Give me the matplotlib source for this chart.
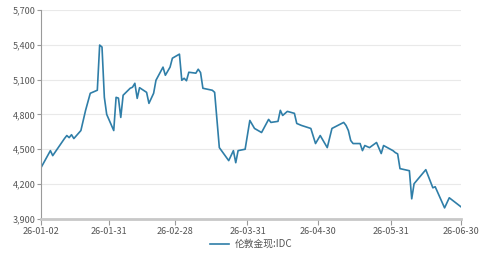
import matplotlib
matplotlib.use("Agg")
import matplotlib.pyplot as plt
import pandas as pd

plt.rcParams["font.family"] = ["Noto Sans CJK SC", "DejaVu Sans"]

# spot gold (London)
dates = [
    "2026-01-02", "2026-01-06", "2026-01-07", "2026-01-12", "2026-01-13",
    "2026-01-14", "2026-01-15", "2026-01-16", "2026-01-19", "2026-01-21",
    "2026-01-23", "2026-01-26", "2026-01-27", "2026-01-28", "2026-01-29",
    "2026-01-30", "2026-02-02", "2026-02-03", "2026-02-04", "2026-02-05",
    "2026-02-06", "2026-02-09", "2026-02-10", "2026-02-11", "2026-02-12",
    "2026-02-13", "2026-02-16", "2026-02-17", "2026-02-19", "2026-02-20",
    "2026-02-23", "2026-02-24", "2026-02-26", "2026-02-27", "2026-03-02",
    "2026-03-03", "2026-03-04", "2026-03-05", "2026-03-06", "2026-03-09",
    "2026-03-10", "2026-03-11", "2026-03-12", "2026-03-16", "2026-03-17",
    "2026-03-19", "2026-03-23", "2026-03-25", "2026-03-26", "2026-03-27",
    "2026-03-30", "2026-04-01", "2026-04-03", "2026-04-06", "2026-04-09",
    "2026-04-10", "2026-04-13", "2026-04-14", "2026-04-15", "2026-04-17",
    "2026-04-20", "2026-04-21", "2026-04-23", "2026-04-27", "2026-04-29",
    "2026-05-01", "2026-05-04", "2026-05-06", "2026-05-11", "2026-05-12",
    "2026-05-13", "2026-05-14", "2026-05-15", "2026-05-18", "2026-05-19",
    "2026-05-20", "2026-05-22", "2026-05-25", "2026-05-27", "2026-05-28",
    "2026-06-01", "2026-06-02", "2026-06-03", "2026-06-04", "2026-06-08",
    "2026-06-09", "2026-06-10", "2026-06-15", "2026-06-18", "2026-06-19",
    "2026-06-23", "2026-06-25", "2026-06-30",
]
price = [
    4341, 4488, 4445, 4592, 4618,
    4600, 4625, 4592, 4661, 4835,
    4982, 5008, 5397, 5380, 4947,
    4800, 4661, 4947, 4940, 4774,
    4965, 5025, 5034, 5068, 4938,
    5030, 4990, 4895, 4982, 5094,
    5207, 5137, 5207, 5284, 5319,
    5094, 5111, 5090, 5163, 5155,
    5189, 5160, 5025, 5008, 4990,
    4514, 4402, 4488, 4384, 4488,
    4500, 4748, 4679, 4644, 4757,
    4731, 4740, 4835, 4791, 4826,
    4809, 4722, 4705, 4679, 4549,
    4618, 4514, 4679, 4731, 4705,
    4661, 4575, 4549, 4549, 4488,
    4532, 4514, 4558, 4463, 4532,
    4488, 4471, 4460, 4333, 4315,
    4073, 4203, 4324, 4168, 4177,
    3995, 4082, 4004,
]
tick_dates = ["2026-01-02", "2026-01-31", "2026-02-28", "2026-03-31",
              "2026-04-30", "2026-05-31", "2026-06-30"]
y_ticks = [3900, 4200, 4500, 4800, 5100, 5400, 5700]
series_name = "伦敦金现:IDC"

x = pd.to_datetime(dates)
xt = pd.to_datetime(tick_dates)

fig = plt.figure(figsize=(5, 2.6), dpi=100)
ax = fig.add_axes([0.082, 0.158, 0.84, 0.804])

ax.plot(x, price, c="#2f7ea8", lw=1.2, label=series_name)

ax.set_ylim(3900, 5700)
ax.set_xlim(xt[0], xt[-1])
ax.set_yticks(y_ticks)
ax.set_yticklabels([f"{v:,}" for v in y_ticks])
ax.set_xticks(xt)
ax.set_xticklabels([d.strftime("%y-%m-%d") for d in xt])
ax.grid(axis="y", color="#e9e9e9", lw=0.8)
ax.set_axisbelow(True)

for s in ["top", "right"]:
    ax.spines[s].set_visible(False)
ax.spines["left"].set_color("#9a9a9a")
ax.spines["left"].set_linewidth(0.8)
ax.spines["bottom"].set_color("#c8c8c8")
ax.spines["bottom"].set_linewidth(2)
ax.tick_params(axis="y", colors="#9a9a9a", labelcolor="#555555",
               labelsize=6.5, length=3, width=0.8, pad=1)
ax.tick_params(axis="x", colors="#9a9a9a", labelcolor="#555555",
               labelsize=6.5, length=4, width=0.8, pad=2)

ax.legend(loc="center", bbox_to_anchor=(0.5, -0.12), frameon=False,
          fontsize=7, handlelength=2, handletextpad=0.5, labelcolor="#555555")

plt.savefig("out.png", dpi=100)
